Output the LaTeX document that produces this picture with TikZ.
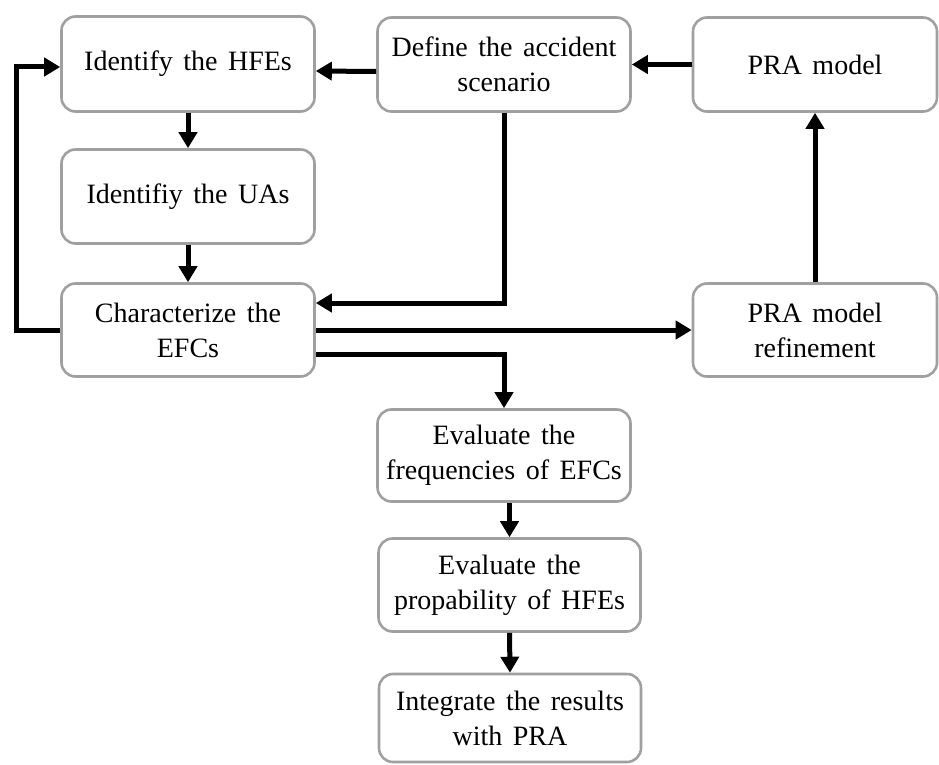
\documentclass[tikz,border=0pt]{standalone}
\usepackage{fontspec}
\setmainfont{Liberation Serif}[WordSpace=1.5]
\usetikzlibrary{arrows.meta,calc}
\definecolor{boxgray}{HTML}{A0A0A0}
\begin{document}
\begin{tikzpicture}[x=1pt,y=-1pt,
  stepbox/.style={draw=boxgray, line width=2.6pt, rounded corners=14pt, fill=white,
    align=center, inner sep=0pt, font=\fontsize{28pt}{35pt}\selectfont},
  conn/.style={line width=5pt, -{Triangle[length=16pt,width=18pt]}}]
\useasboundingbox (0,0) rectangle (939,765);
\node[stepbox, minimum width=253pt, minimum height=95pt] (hfe) at (188,64) {Identify the HFEs};
\node[stepbox, minimum width=253pt, minimum height=94pt] (ua) at (188,196.5) {Identifiy the UAs};
\node[stepbox, minimum width=253pt, minimum height=93pt] (efc) at (188,330) {Characterize the\\EFCs};
\node[stepbox, minimum width=253pt, minimum height=94pt] (def) at (504,64.5) {Define the accident\\scenario};
\node[stepbox, minimum width=244pt, minimum height=94pt] (pra) at (815,64.5) {PRA model};
\node[stepbox, minimum width=244pt, minimum height=93pt] (ref) at (815,330) {PRA model\\refinement};
\node[stepbox, minimum width=253pt, minimum height=92pt] (freq) at (504,455.5) {Evaluate the\\frequencies of EFCs};
\node[stepbox, minimum width=262pt, minimum height=93pt] (prob) at (509.5,585) {Evaluate the\\propability of HFEs};
\node[stepbox, minimum width=262pt, minimum height=88pt] (integ) at (510,718) {Integrate the results\\with PRA};
\coordinate (fb) at (16,67);
\draw[conn] (pra.west) -- (def.east);
\draw[conn] ([yshift=-7pt]def.west) -- ([yshift=-7pt]hfe.east);
\draw[conn] (hfe.south) -- (ua.north);
\draw[conn] (ua.south) -- (efc.north);
\draw[conn] (efc.west) -| (fb) -- (fb -| hfe.west);
\draw[conn] (def.south) |- ([yshift=27pt]efc.east);
\draw[conn] (efc.east) -- (ref.west);
\draw[conn] ([yshift=-24pt]efc.east) -| (freq.north);
\draw[conn] (ref.north) -- (pra.south);
\draw[conn] (prob.north |- freq.south) -- (prob.north);
\draw[conn] (prob.south) -- (integ.north);
\end{tikzpicture}
\end{document}
